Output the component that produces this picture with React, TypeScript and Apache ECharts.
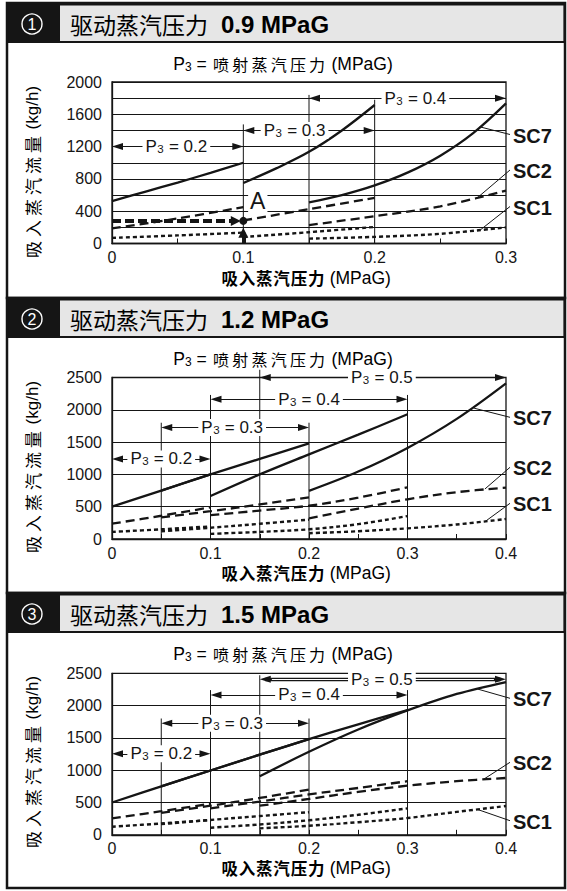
import { useEffect, useRef } from 'react';
import * as echarts from 'echarts';

type Pt = [number, number];
type Arrow = { p3: string; from: number; to: number; y: number; lx: number; double?: boolean };
type Leader = { name: string; from: Pt; dy: number };

const LATIN = "'Liberation Sans', Arial, Helvetica, sans-serif";
const CJK = "'Noto Sans CJK SC', 'Noto Sans', sans-serif";
const INK = '#151515';

// ---------- Panel 1 : drive steam 0.9 MPaG ----------
const p1XLabels = ['0', '0.1', '0.2', '0.3'];
const p1YLabels = ['0', '400', '800', '1200', '1600', '2000'];
const p1_02_sc7: Pt[] = [[0, 525], [0.025, 640], [0.05, 755], [0.075, 875], [0.1, 1000]];
const p1_02_sc2: Pt[] = [[0, 186], [0.05, 310], [0.1, 450]];
const p1_02_sc1: Pt[] = [[0, 70], [0.05, 100], [0.1, 135]];
const p1_03_sc7: Pt[] = [[0.1, 750], [0.125, 930], [0.15, 1135], [0.175, 1400], [0.2, 1715]];
const p1_03_sc2: Pt[] = [[0.1, 285], [0.15, 425], [0.2, 565]];
const p1_03_sc1: Pt[] = [[0.1, 80], [0.15, 140], [0.2, 205]];
const p1_04_sc7: Pt[] = [[0.15, 510], [0.175, 600], [0.2, 720], [0.225, 878], [0.25, 1088], [0.275, 1367], [0.3, 1735]];
const p1_04_sc2: Pt[] = [[0.15, 228], [0.2, 338], [0.25, 460], [0.3, 655]];
const p1_04_sc1: Pt[] = [[0.15, 60], [0.2, 82], [0.25, 120], [0.3, 200]];
const p1VLines: Pt[] = [[0.1, 1475], [0.15, 1840], [0.2, 1780]];
const p1Arrows: Arrow[] = [
  { p3: '0.2', from: 0, to: 0.1, y: 1200, lx: 0.049 },
  { p3: '0.3', from: 0.1, to: 0.2, y: 1400, lx: 0.139 },
  { p3: '0.4', from: 0.15, to: 0.3, y: 1800, lx: 0.231 },
];
const p1Leaders: Leader[] = [
  { name: 'SC7', from: [0.28, 1445], dy: 132.5 },
  { name: 'SC2', from: [0.277, 550], dy: 168 },
  { name: 'SC1', from: [0.28, 162], dy: 204.5 },
];
const exampleA: Pt = [0.1, 280];
const exampleLabel: Pt = [0.111, 525];

// ---------- Panel 2 : drive steam 1.2 MPaG ----------
const p2XLabels = ['0', '0.1', '0.2', '0.3', '0.4'];
const p2YLabels = ['0', '500', '1000', '1500', '2000', '2500'];
const p2_02_sc7: Pt[] = [[0, 500], [0.05, 750], [0.1, 1000]];
const p2_02_sc2: Pt[] = [[0, 237], [0.05, 360], [0.1, 490]];
const p2_02_sc1: Pt[] = [[0, 110], [0.05, 150], [0.1, 195]];
const p2_03_sc7: Pt[] = [[0.05, 750], [0.1, 1000], [0.15, 1240], [0.2, 1480]];
const p2_03_sc2: Pt[] = [[0.05, 335], [0.1, 430], [0.15, 535], [0.2, 645]];
const p2_03_sc1: Pt[] = [[0.05, 120], [0.1, 175], [0.15, 235], [0.2, 300]];
const p2_04_sc7: Pt[] = [[0.1, 665], [0.15, 1000], [0.2, 1310], [0.25, 1615], [0.3, 1932]];
const p2_04_sc2: Pt[] = [[0.1, 370], [0.15, 440], [0.2, 515], [0.25, 640], [0.3, 800]];
const p2_04_sc1: Pt[] = [[0.1, 80], [0.15, 110], [0.2, 150], [0.25, 230], [0.3, 355]];
const p2_05_sc7: Pt[] = [[0.2, 745], [0.25, 1044], [0.3, 1410], [0.35, 1860], [0.4, 2410]];
const p2_05_sc2: Pt[] = [[0.2, 320], [0.25, 470], [0.3, 615], [0.35, 725], [0.4, 795]];
const p2_05_sc1: Pt[] = [[0.2, 90], [0.25, 120], [0.3, 165], [0.35, 225], [0.4, 310]];
const p2VLines: Pt[] = [[0.05, 1800], [0.1, 2230], [0.15, 2620], [0.2, 1800], [0.3, 2230]];
const p2Arrows: Arrow[] = [
  { p3: '0.2', from: 0, to: 0.1, y: 1240, lx: 0.05 },
  { p3: '0.3', from: 0.05, to: 0.2, y: 1725, lx: 0.122 },
  { p3: '0.4', from: 0.1, to: 0.3, y: 2165, lx: 0.2 },
  { p3: '0.5', from: 0.15, to: 0.4, y: 2500, lx: 0.274 },
];
const p2Leaders: Leader[] = [
  { name: 'SC7', from: [0.3676, 2025], dy: 120.3 },
  { name: 'SC2', from: [0.3786, 774], dy: 170.3 },
  { name: 'SC1', from: [0.3786, 268], dy: 206.3 },
];

// ---------- Panel 3 : drive steam 1.5 MPaG ----------
const p3XLabels = ['0', '0.1', '0.2', '0.3', '0.4'];
const p3YLabels = ['0', '500', '1000', '1500', '2000', '2500'];
const p3_02_sc7: Pt[] = [[0, 500], [0.05, 750], [0.1, 995]];
const p3_02_sc2: Pt[] = [[0, 255], [0.05, 365], [0.1, 480]];
const p3_02_sc1: Pt[] = [[0, 125], [0.05, 175], [0.1, 228]];
const p3_03_sc7: Pt[] = [[0.05, 750], [0.1, 995], [0.15, 1240], [0.2, 1480]];
const p3_03_sc2: Pt[] = [[0.05, 340], [0.1, 450], [0.15, 570], [0.2, 700]];
const p3_03_sc1: Pt[] = [[0.05, 165], [0.1, 230], [0.15, 290], [0.2, 350]];
const p3_04_sc7: Pt[] = [[0.1, 995], [0.15, 1240], [0.2, 1480], [0.25, 1710], [0.3, 1930]];
const p3_04_sc2: Pt[] = [[0.1, 410], [0.15, 515], [0.2, 625], [0.25, 725], [0.3, 830]];
const p3_04_sc1: Pt[] = [[0.1, 110], [0.15, 160], [0.2, 225], [0.25, 310], [0.3, 410]];
const p3_05_sc7: Pt[] = [[0.15, 905], [0.2, 1285], [0.25, 1630], [0.3, 1925], [0.35, 2180], [0.4, 2365]];
const p3_05_sc2: Pt[] = [[0.15, 450], [0.2, 555], [0.25, 665], [0.3, 760], [0.35, 830], [0.4, 880]];
const p3_05_sc1: Pt[] = [[0.15, 100], [0.2, 140], [0.25, 195], [0.3, 260], [0.35, 355], [0.4, 445]];
const p3VLines: Pt[] = [[0.05, 1800], [0.1, 2240], [0.15, 2470], [0.2, 1800], [0.3, 2240]];
const p3Arrows: Arrow[] = [
  { p3: '0.2', from: 0, to: 0.1, y: 1253, lx: 0.05 },
  { p3: '0.3', from: 0.05, to: 0.2, y: 1727, lx: 0.122 },
  { p3: '0.4', from: 0.1, to: 0.3, y: 2165, lx: 0.2 },
  { p3: '0.5', from: 0.15, to: 0.4, y: 2407, lx: 0.274, double: true },
];
const p3Leaders: Leader[] = [
  { name: 'SC7', from: [0.371, 2257], dy: 106.3 },
  { name: 'SC2', from: [0.377, 857], dy: 170.3 },
  { name: 'SC1', from: [0.371, 393], dy: 228.7 },
];

// ---------- layout ----------
type Panel = {
  top: number; gridTop: number; num: string; drive: string;
  xMax: number; yMax: number; yStep: number;
  xLabels: string[]; yLabels: string[];
  curves: [string, Pt[]][]; vlines: Pt[]; arrows: Arrow[]; leaders: Leader[];
};

const panels: Panel[] = [
  {
    top: 3, gridTop: 82, num: '1', drive: '0.9 MPaG', xMax: 0.3, yMax: 2000, yStep: 200,
    xLabels: p1XLabels, yLabels: p1YLabels,
    curves: [['SC7', p1_02_sc7], ['SC2', p1_02_sc2], ['SC1', p1_02_sc1], ['SC7', p1_03_sc7], ['SC2', p1_03_sc2], ['SC1', p1_03_sc1], ['SC7', p1_04_sc7], ['SC2', p1_04_sc2], ['SC1', p1_04_sc1]],
    vlines: p1VLines, arrows: p1Arrows, leaders: p1Leaders,
  },
  {
    top: 298, gridTop: 377.5, num: '2', drive: '1.2 MPaG', xMax: 0.4, yMax: 2500, yStep: 500,
    xLabels: p2XLabels, yLabels: p2YLabels,
    curves: [['SC7', p2_02_sc7], ['SC2', p2_02_sc2], ['SC1', p2_02_sc1], ['SC7', p2_03_sc7], ['SC2', p2_03_sc2], ['SC1', p2_03_sc1], ['SC7', p2_04_sc7], ['SC2', p2_04_sc2], ['SC1', p2_04_sc1], ['SC7', p2_05_sc7], ['SC2', p2_05_sc2], ['SC1', p2_05_sc1]],
    vlines: p2VLines, arrows: p2Arrows, leaders: p2Leaders,
  },
  {
    top: 593, gridTop: 673.3, num: '3', drive: '1.5 MPaG', xMax: 0.4, yMax: 2500, yStep: 500,
    xLabels: p3XLabels, yLabels: p3YLabels,
    curves: [['SC7', p3_02_sc7], ['SC2', p3_02_sc2], ['SC1', p3_02_sc1], ['SC7', p3_03_sc7], ['SC2', p3_03_sc2], ['SC1', p3_03_sc1], ['SC7', p3_04_sc7], ['SC2', p3_04_sc2], ['SC1', p3_04_sc1], ['SC7', p3_05_sc7], ['SC2', p3_05_sc2], ['SC1', p3_05_sc1]],
    vlines: p3VLines, arrows: p3Arrows, leaders: p3Leaders,
  },
];

const GRID_LEFT = 112;
const GRID_W = 394;
const GRID_H = 161.5;

const STYLE: Record<string, { type: any; width: number }> = {
  SC7: { type: 'solid', width: 2.3 },
  SC2: { type: [9, 5], width: 2.3 },
  SC1: { type: [4, 3], width: 2.4 },
};

const NOBORDER = { textBorderWidth: 0, textBorderColor: 'transparent', textShadowBlur: 0, textShadowColor: 'transparent', opacity: 1 };

const P3_RICH = {
  p: { fontFamily: LATIN, fontSize: 17, color: INK, lineHeight: 17, ...NOBORDER },
  s: { fontFamily: LATIN, fontSize: 11.5, color: INK, verticalAlign: 'bottom', padding: [0, 0.5, 0, 0.5], ...NOBORDER },
};

const spaced = (s: string, tok: string) => Array.from(s).map((c) => `{${tok}|${c}}`).join('');

function buildOption() {
  const grid: any[] = [];
  const xAxis: any[] = [];
  const yAxis: any[] = [];
  const series: any[] = [];

  panels.forEach((p, k) => {
    grid.push({
      left: GRID_LEFT, top: p.gridTop, width: GRID_W, height: GRID_H,
      show: true, borderColor: INK, borderWidth: 1.3, backgroundColor: 'transparent',
    });
    xAxis.push({
      gridIndex: k, type: 'value', min: 0, max: p.xMax, interval: 0.05,
      axisLine: { show: true, lineStyle: { color: INK, width: 1.3 } },
      axisTick: { show: true, inside: true, length: 5, lineStyle: { color: INK, width: 1 } },
      splitLine: { show: false },
      axisLabel: {
        fontFamily: LATIN, fontSize: 16, color: INK, margin: 6,
        formatter: (v: number) => {
          const r = Math.round(v * 100);
          if (r % 10 !== 0) return '';
          return p.xLabels[r / 10] ?? '';
        },
      },
    });
    yAxis.push({
      gridIndex: k, type: 'value', min: 0, max: p.yMax, interval: p.yStep,
      axisLine: { show: true, lineStyle: { color: INK, width: 1.3 } },
      axisTick: { show: false },
      splitLine: { show: true, lineStyle: { color: INK, width: 1 } },
      axisLabel: {
        fontFamily: LATIN, fontSize: 16, color: INK, margin: 10,
        formatter: (v: number) => (p.yLabels.includes(String(Math.round(v))) ? String(Math.round(v)) : ''),
      },
    });

    p.vlines.forEach(([x, top]) => {
      series.push({
        type: 'line', xAxisIndex: k, yAxisIndex: k, data: [[x, 0], [x, top]],
        showSymbol: false, symbol: 'none', clip: false, silent: true, z: 2,
        lineStyle: { color: INK, width: 1 },
      });
    });

    p.curves.forEach(([kind, data]) => {
      const st = STYLE[kind];
      series.push({
        type: 'line', xAxisIndex: k, yAxisIndex: k, data,
        showSymbol: false, symbol: 'none', smooth: 0.35, silent: true, z: 3,
        lineStyle: { color: INK, width: st.width, type: st.type, cap: 'butt' },
      });
    });

    const gap = (5.5 * p.xMax) / GRID_W;
    series.push({
      type: 'line', xAxisIndex: k, yAxisIndex: k, data: [], silent: true, z: 4,
      markLine: {
        silent: true, animation: false,
        symbol: ['triangle', 'triangle'], symbolSize: [7, 11],
        label: { show: false },
        emphasis: { disabled: true },
        lineStyle: { color: INK, width: 1, type: 'solid' },
        data: p.arrows.map((a) => [
          { coord: [a.from + gap, a.y], lineStyle: { width: a.double ? 3.4 : 1 } },
          { coord: [a.to - gap, a.y] },
        ]),
      },
    });
    const doubles = p.arrows.filter((a) => a.double);
    if (doubles.length) {
      series.push({
        type: 'line', xAxisIndex: k, yAxisIndex: k, data: [], silent: true, z: 4,
        markLine: {
          silent: true, animation: false, symbol: ['none', 'none'],
          label: { show: false }, emphasis: { disabled: true },
          lineStyle: { color: '#ffffff', width: 1.1, type: 'solid' },
          data: doubles.map((a) => [{ coord: [a.from + gap * 2.2, a.y] }, { coord: [a.to - gap * 2.2, a.y] }]),
        },
      });
    }
    series.push({
      type: 'scatter', xAxisIndex: k, yAxisIndex: k, symbolSize: 0, silent: true, z: 6,
      itemStyle: { color: INK, opacity: 1 },
      emphasis: { disabled: true },
      data: p.arrows.map((a) => ({
        value: [a.lx, a.y],
        label: { formatter: `{p|P}{s|3}{p| = ${a.p3}}` },
      })),
      label: {
        show: true, position: 'inside', backgroundColor: '#ffffff', padding: [0, 3, 0, 3],
        color: INK, ...NOBORDER,
        rich: P3_RICH,
      },
    });

    if (k === 0) {
      const gx = (5 * p.xMax) / GRID_W;
      const gy = (5 * p.yMax) / GRID_H;
      series.push({
        type: 'line', xAxisIndex: k, yAxisIndex: k, data: [], silent: true, z: 7,
        markLine: {
          silent: true, animation: false, symbol: ['none', 'triangle'], symbolSize: [10, 10],
          label: { show: false }, emphasis: { disabled: true },
          lineStyle: { color: INK, width: 4, type: [9, 4] },
          data: [[{ coord: [0, exampleA[1]] }, { coord: [exampleA[0] - gx * 1.5, exampleA[1]] }]],
        },
      });
      series.push({
        type: 'line', xAxisIndex: k, yAxisIndex: k, data: [], silent: true, z: 7,
        markLine: {
          silent: true, animation: false, symbol: ['none', 'triangle'], symbolSize: [10, 10],
          label: { show: false }, emphasis: { disabled: true },
          lineStyle: { color: INK, width: 4, type: 'solid' },
          data: [[{ coord: [exampleA[0], 0] }, { coord: [exampleA[0], exampleA[1] - 85 - gy] }]],
        },
      });
      series.push({
        type: 'scatter', xAxisIndex: k, yAxisIndex: k, silent: true, z: 8,
        symbol: 'circle', symbolSize: 8, itemStyle: { color: INK, opacity: 1 },
        emphasis: { disabled: true },
        data: [exampleA],
      });
      series.push({
        type: 'scatter', xAxisIndex: k, yAxisIndex: k, silent: true, z: 6, symbolSize: 0,
        itemStyle: { color: INK, opacity: 1 },
        emphasis: { disabled: true },
        data: [exampleLabel],
        label: {
          show: true, position: 'inside', formatter: 'A', fontFamily: LATIN, fontSize: 23,
          color: INK, backgroundColor: '#ffffff', padding: [0, 2, 0, 2], ...NOBORDER,
        },
      });
    }
  });

  return { animation: false, backgroundColor: '#ffffff', grid, xAxis, yAxis, series };
}

function buildGraphic(chart: echarts.ECharts) {
  const g: any[] = [];
  panels.forEach((p, k) => {
    const T = p.top;
    g.push({ type: 'rect', z: 10, shape: { x: 7, y: T, width: 558, height: 40 }, style: { fill: INK } });
    g.push({ type: 'rect', z: 11, shape: { x: 60, y: T + 2.5, width: 503.5, height: 35.5 }, style: { fill: '#e6e6e6' } });
    g.push({ type: 'circle', z: 12, shape: { cx: 32, cy: T + 21, r: 10 }, style: { fill: 'none', stroke: '#ffffff', lineWidth: 1.4 } });
    g.push({
      type: 'text', z: 12, x: 32, y: T + 21.5,
      style: { text: p.num, fill: '#ffffff', fontFamily: LATIN, fontSize: 16, align: 'center', verticalAlign: 'middle' },
    });
    g.push({
      type: 'text', z: 12, x: 70, y: T + 21,
      style: {
        text: `{h|驱动蒸汽压力}{b|${p.drive}}`, verticalAlign: 'middle', align: 'left',
        rich: {
          h: { fontFamily: CJK, fontSize: 23, color: INK },
          b: { fontFamily: LATIN, fontSize: 24, fontWeight: 'bold', color: INK, padding: [0, 0, 0, 13] },
        },
      },
    });
    g.push({ type: 'rect', z: 13, shape: { x: 7, y: T, width: 558, height: 295 }, style: { fill: 'none', stroke: INK, lineWidth: 2.5 } });

    g.push({
      type: 'text', z: 12, x: 283, y: T + 61,
      style: {
        text: `{p|P}{s|3}{p| = }${spaced('喷射蒸汽压力', 'c')}{p| (MPaG)}`,
        align: 'center', verticalAlign: 'middle',
        rich: {
          p: { fontFamily: LATIN, fontSize: 17.5, color: INK },
          s: { fontFamily: LATIN, fontSize: 12, color: INK, verticalAlign: 'bottom' },
          c: { fontFamily: CJK, fontSize: 16, color: INK, padding: [0, 1.6, 0, 1.6] },
        },
      },
    });
    g.push({
      type: 'text', z: 12, x: 306, y: T + 275,
      style: {
        text: `${spaced('吸入蒸汽压力', 'c')}{p| (MPaG)}`,
        align: 'center', verticalAlign: 'middle',
        rich: {
          p: { fontFamily: LATIN, fontSize: 17.5, color: INK },
          c: { fontFamily: CJK, fontSize: 16.5, fontWeight: 'bold', color: INK, padding: [0, 0.4, 0, 0.4] },
        },
      },
    });
    g.push({
      type: 'text', z: 12, x: 32, y: T + 170, rotation: Math.PI / 2,
      style: {
        text: `${spaced('吸入蒸汽流量', 'c')}{p| (kg/h)}`,
        align: 'center', verticalAlign: 'middle',
        rich: {
          p: { fontFamily: LATIN, fontSize: 17, color: INK },
          c: { fontFamily: CJK, fontSize: 17, color: INK, padding: [0, 2, 0, 2] },
        },
      },
    });

    p.leaders.forEach((l) => {
      const pt = chart.convertToPixel({ gridIndex: k } as any, l.from) as unknown as number[];
      const ly = T + l.dy;
      g.push({
        type: 'line', z: 12,
        shape: { x1: pt[0], y1: pt[1], x2: 510, y2: ly - 1 },
        style: { stroke: INK, lineWidth: 1 },
      });
      g.push({
        type: 'text', z: 12, x: 513, y: ly,
        style: { text: l.name, fontFamily: LATIN, fontSize: 20, fontWeight: 'bold', fill: INK, align: 'left', verticalAlign: 'middle' },
      });
    });
  });
  return g;
}

export default function App() {
  const ref = useRef<HTMLDivElement>(null);
  useEffect(() => {
    if (!ref.current) return;
    const chart = echarts.init(ref.current, null, { renderer: 'svg', width: 567, height: 891 });
    chart.setOption(buildOption() as any);
    chart.setOption({ graphic: buildGraphic(chart) } as any);
    return () => chart.dispose();
  }, []);
  return (
    <div
      ref={ref}
      style={{ position: 'absolute', left: 0, top: 0, width: 567, height: 891, background: '#fff' }}
    />
  );
}
